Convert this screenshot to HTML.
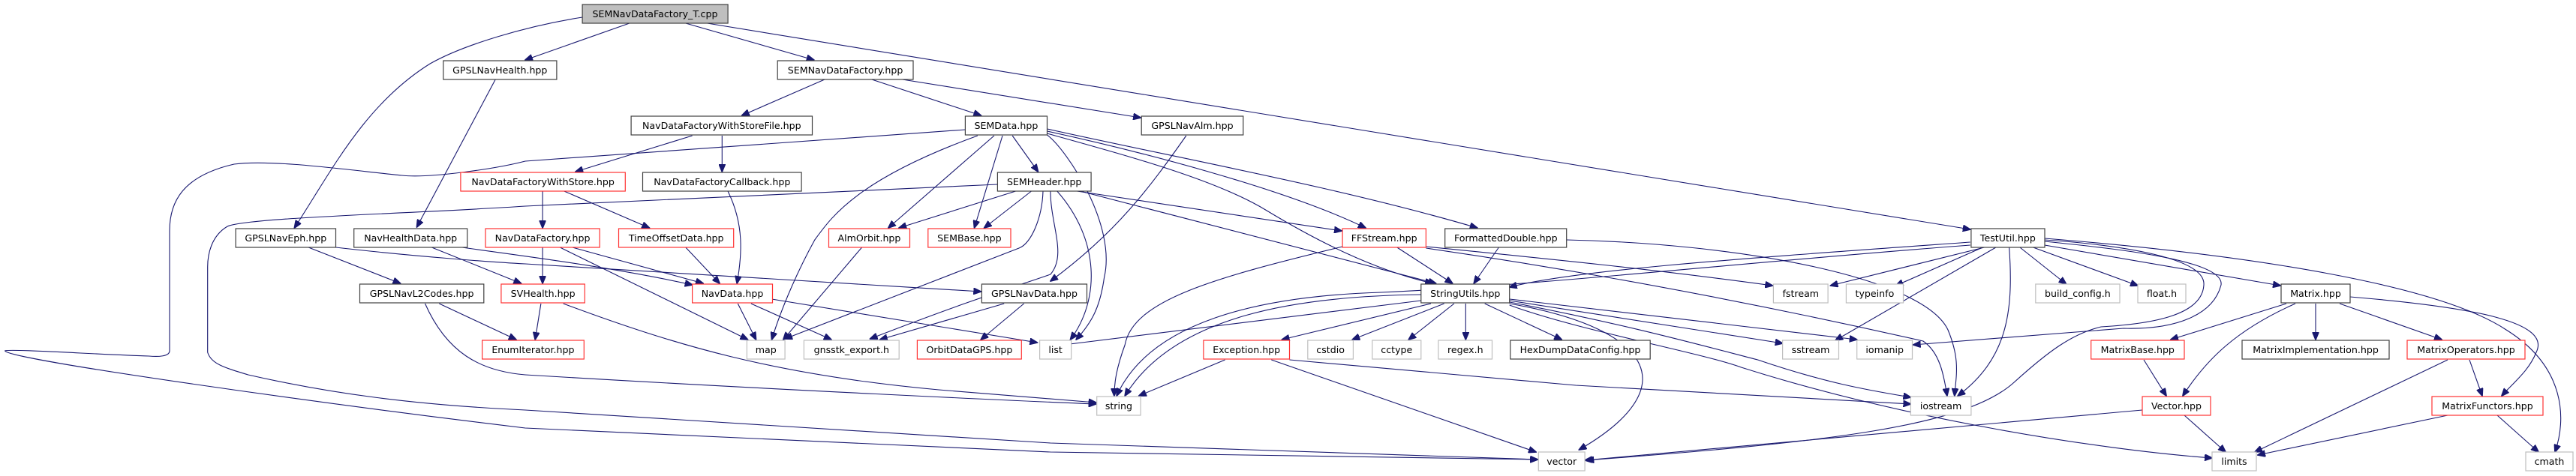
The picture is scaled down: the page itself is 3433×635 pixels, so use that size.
<!DOCTYPE html>
<html><head><meta charset="utf-8"><style>
html,body{margin:0;padding:0;background:#fff}
svg{display:block}
text{font-family:"DejaVu Sans","Liberation Sans",sans-serif;font-size:12.6px;fill:#000;text-anchor:middle}
.e{fill:none;stroke:#191970;stroke-width:1.1}
.b{fill:#fff;stroke:#404040;stroke-width:1.2}
.r{fill:#fff;stroke:#ff3333;stroke-width:1.2}
.g{fill:#fff;stroke:#bfbfbf;stroke-width:1.2}
.root{fill:#bfbfbf;stroke:#404040;stroke-width:1.2}
</style></head><body>
<svg id="s" width="3433" height="635" viewBox="0 0 3433 635" xmlns="http://www.w3.org/2000/svg">
<defs><marker id="a" markerWidth="11" markerHeight="9" refX="10" refY="4.5" orient="auto" markerUnits="userSpaceOnUse"><path d="M0,0 L11,4.5 L0,9 Z" fill="#191970" stroke="#191970"/></marker></defs>
<g class="e" marker-end="url(#a)">
<path d="M826,31 L700,80"/>
<path d="M894,31 L1049,80"/>
<path d="M920,31 L2577,306"/>
<path d="M769,23 C650,35 560,60 520,85 C440,140 400,230 356,304"/>
<path d="M599,106 L504,303"/>
<path d="M1062,106 L962,154"/>
<path d="M1119,106 L1251,154"/>
<path d="M1156,106 L1509,157"/>
<path d="M902,181 L761,229"/>
<path d="M938,181 L938,229"/>
<path d="M721,255 L721,304"/>
<path d="M747,255 L850,304"/>
<path d="M945,255 C965,300 962,340 956,378"/>
<path d="M894,330 L935,378"/>
<path d="M721,330 L721,378"/>
<path d="M757,330 L915,378"/>
<path d="M742,330 L969,453"/>
<path d="M522,330 L630,378"/>
<path d="M559,330 C620,340 800,355 902,380"/>
<path d="M406,330 C500,342 600,350 700,352 L1251,389"/>
<path d="M373,330 L484,378"/>
<path d="M531,405 L624,453"/>
<path d="M514,405 C540,470 580,495 700,500 C1000,520 1300,535 1455,539"/>
<path d="M719,405 L712,453"/>
<path d="M746,405 C880,460 1000,500 1200,520 L1455,537"/>
<path d="M957,405 L979,453"/>
<path d="M973,405 L1070,453"/>
<path d="M998,399 L1319,457"/>
<path d="M1232,173 L700,215 C600,225 520,238 486,234 C430,228 330,212 283,219 C220,235 205,270 205,308 L205,468 C205,476 190,476 180,475 C120,473 10,465 6,468 C10,480 400,540 635,571 L1335,603 L1989,613"/>
<path d="M1271,246 L700,275 C500,285 300,290 275,302 C255,315 251,340 251,356 L251,470 C255,485 270,490 300,500 C400,525 500,540 635,547 L1335,591 L1989,613"/>
<path d="M1247,181 C1100,240 1070,290 1050,320 C1030,360 1010,410 998,453"/>
<path d="M1267,181 L1139,304"/>
<path d="M1277,181 L1243,304"/>
<path d="M1289,181 L1320,229"/>
<path d="M1331,180 C1420,200 1480,300 1465,370 C1460,410 1450,430 1431,453"/>
<path d="M1331,175 C1500,200 1680,250 1781,304"/>
<path d="M1331,178 C1500,210 1600,240 1660,280 C1720,320 1790,360 1862,378"/>
<path d="M1331,172 C1550,210 1750,250 1916,304"/>
<path d="M1293,255 L1152,304"/>
<path d="M1312,255 L1255,304"/>
<path d="M1326,255 C1325,290 1312,325 1297,331 L1014,452"/>
<path d="M1335,255 C1345,300 1420,340 1360,366 C1300,380 1250,395 1117,452"/>
<path d="M1408,255 C1460,320 1460,400 1424,453"/>
<path d="M1432,255 L1752,308"/>
<path d="M1436,255 L1866,378"/>
<path d="M1107,330 L1012,453"/>
<path d="M1564,181 C1520,250 1480,310 1400,375"/>
<path d="M1279,405 L1129,453"/>
<path d="M1303,405 L1251,453"/>
<path d="M1753,329 C1600,370 1500,400 1490,460 C1480,490 1477,510 1477,528"/>
<path d="M1819,330 L1886,378"/>
<path d="M1854,329 C2000,345 2200,360 2338,381"/>
<path d="M1854,331 C2050,360 2300,400 2520,455 C2540,470 2545,500 2549,528"/>
<path d="M1942,330 L1912,378"/>
<path d="M2024,320 C2300,325 2520,370 2550,440 C2565,480 2560,500 2558,528"/>
<path d="M1848,393 C1700,395 1550,420 1490,528"/>
<path d="M2577,323 C2300,345 2100,360 1955,383"/>
<path d="M2577,327 C2300,350 2000,380 1800,390 C1650,395 1520,430 1480,528"/>
<path d="M1848,401 L1416,460"/>
<path d="M1860,405 L1680,453"/>
<path d="M1876,405 L1765,453"/>
<path d="M1888,405 L1833,453"/>
<path d="M1902,405 L1902,453"/>
<path d="M1925,405 L2018,453"/>
<path d="M1955,401 L2350,458"/>
<path d="M1955,399 L2440,453"/>
<path d="M1955,403 C2150,430 2250,460 2320,480 C2400,510 2450,520 2505,530"/>
<path d="M1955,405 C2200,440 2230,520 2104,600"/>
<path d="M1955,407 C2100,440 2250,470 2300,490 C2500,560 2800,600 2948,611"/>
<path d="M1611,480 L1507,528"/>
<path d="M1667,480 L1987,603"/>
<path d="M1689,480 L2035,514 L2505,539"/>
<path d="M2594,330 L2408,381"/>
<path d="M2592,330 L2487,381"/>
<path d="M2608,330 L2414,454"/>
<path d="M2624,330 C2630,420 2620,480 2562,528"/>
<path d="M2637,330 L2693,379"/>
<path d="M2653,330 L2849,381"/>
<path d="M2667,327 L3039,381"/>
<path d="M2667,318 C3000,340 3250,380 3340,440 C3420,490 3420,560 3405,603"/>
<path d="M2667,320 C2780,325 2940,340 2937,380 C2935,420 2870,432 2800,436 C2700,445 2670,470 2630,510 C2570,570 2400,590 2113,614"/>
<path d="M2667,322 C2800,330 2965,345 2960,380 C2950,420 2900,440 2830,438 L2508,460"/>
<path d="M3047,405 L2893,453"/>
<path d="M3059,405 C2980,440 2940,480 2909,528"/>
<path d="M3086,405 L3086,453"/>
<path d="M3118,405 L3254,453"/>
<path d="M3132,396 C3300,410 3400,430 3380,470 C3370,495 3350,510 3334,528"/>
<path d="M2857,480 L2887,528"/>
<path d="M3262,480 L3005,603"/>
<path d="M3291,480 L3308,528"/>
<path d="M3262,554 L3009,607"/>
<path d="M3328,554 L3383,603"/>
<path d="M2911,554 L2966,603"/>
<path d="M2855,547 L2111,614"/>
</g>
<g id="nodes">
<rect class="root" x="769" y="6" width="176" height="25"/><text x="857" y="23">SEMNavDataFactory_T.cpp</text>
<rect class="b" x="536" y="81" width="202" height="25"/><text x="637" y="98">GPSLNavHealth.hpp</text>
<rect class="b" x="1005" y="81" width="164" height="25"/><text x="1087" y="98">SEMNavDataFactory.hpp</text>
<rect class="b" x="828" y="155" width="219" height="25"/><text x="937" y="172">NavDataFactoryWithStoreFile.hpp</text>
<rect class="b" x="1232" y="155" width="99" height="25"/><text x="1281" y="172">SEMData.hpp</text>
<rect class="b" x="1510" y="155" width="123" height="25"/><text x="1571" y="172">GPSLNavAlm.hpp</text>
<rect class="r" x="557" y="230" width="264" height="25"/><text x="689" y="247">NavDataFactoryWithStore.hpp</text>
<rect class="b" x="842" y="230" width="192" height="25"/><text x="938" y="247">NavDataFactoryCallback.hpp</text>
<rect class="b" x="1271" y="230" width="178" height="25"/><text x="1360" y="247">SEMHeader.hpp</text>
<rect class="b" x="285" y="305" width="121" height="25"/><text x="345" y="322">GPSLNavEph.hpp</text>
<rect class="b" x="428" y="305" width="137" height="25"/><text x="496" y="322">NavHealthData.hpp</text>
<rect class="r" x="587" y="305" width="203" height="25"/><text x="688" y="322">NavDataFactory.hpp</text>
<rect class="r" x="813" y="305" width="139" height="25"/><text x="882" y="322">TimeOffsetData.hpp</text>
<rect class="r" x="1067" y="305" width="98" height="25"/><text x="1116" y="322">AlmOrbit.hpp</text>
<rect class="r" x="1187" y="305" width="100" height="25"/><text x="1237" y="322">SEMBase.hpp</text>
<rect class="r" x="1753" y="305" width="101" height="25"/><text x="1803" y="322">FFStream.hpp</text>
<rect class="b" x="1877" y="305" width="147" height="25"/><text x="1950" y="322">FormattedDouble.hpp</text>
<rect class="b" x="2578" y="305" width="89" height="25"/><text x="2622" y="322">TestUtil.hpp</text>
<rect class="b" x="435" y="379" width="150" height="25"/><text x="510" y="396">GPSLNavL2Codes.hpp</text>
<rect class="r" x="606" y="379" width="166" height="25"/><text x="689" y="396">SVHealth.hpp</text>
<rect class="r" x="902" y="379" width="97" height="25"/><text x="950" y="396">NavData.hpp</text>
<rect class="b" x="1252" y="379" width="192" height="25"/><text x="1348" y="396">GPSLNavData.hpp</text>
<rect class="b" x="1848" y="379" width="107" height="25"/><text x="1901" y="396">StringUtils.hpp</text>
<rect class="g" x="2339" y="379" width="66" height="25"/><text x="2372" y="396">fstream</text>
<rect class="g" x="2427" y="379" width="69" height="25"/><text x="2461" y="396">typeinfo</text>
<rect class="g" x="2656" y="379" width="169" height="25"/><text x="2740" y="396">build_config.h</text>
<rect class="g" x="2849" y="379" width="64" height="25"/><text x="2881" y="396">float.h</text>
<rect class="b" x="3040" y="379" width="92" height="25"/><text x="3086" y="396">Matrix.hpp</text>
<rect class="r" x="583" y="454" width="188" height="25"/><text x="677" y="471">EnumIterator.hpp</text>
<rect class="g" x="968" y="454" width="46" height="25"/><text x="991" y="471">map</text>
<rect class="g" x="1037" y="454" width="115" height="25"/><text x="1094" y="471">gnsstk_export.h</text>
<rect class="r" x="1174" y="454" width="126" height="25"/><text x="1237" y="471">OrbitDataGPS.hpp</text>
<rect class="g" x="1322" y="454" width="103" height="25"/><text x="1373" y="471">list</text>
<rect class="r" x="1585" y="454" width="104" height="25"/><text x="1637" y="471">Exception.hpp</text>
<rect class="g" x="1711" y="454" width="55" height="25"/><text x="1738" y="471">cstdio</text>
<rect class="g" x="1789" y="454" width="59" height="25"/><text x="1818" y="471">cctype</text>
<rect class="g" x="1869" y="454" width="65" height="25"/><text x="1901" y="471">regex.h</text>
<rect class="b" x="1956" y="454" width="234" height="25"/><text x="2073" y="471">HexDumpDataConfig.hpp</text>
<rect class="g" x="2350" y="454" width="68" height="25"/><text x="2384" y="471">sstream</text>
<rect class="g" x="2440" y="454" width="67" height="25"/><text x="2473" y="471">iomanip</text>
<rect class="r" x="2723" y="454" width="188" height="25"/><text x="2817" y="471">MatrixBase.hpp</text>
<rect class="b" x="2988" y="454" width="196" height="25"/><text x="3086" y="471">MatrixImplementation.hpp</text>
<rect class="r" x="3208" y="454" width="157" height="25"/><text x="3286" y="471">MatrixOperators.hpp</text>
<rect class="g" x="1456" y="529" width="53" height="25"/><text x="1482" y="546">string</text>
<rect class="g" x="2505" y="529" width="73" height="25"/><text x="2541" y="546">iostream</text>
<rect class="r" x="2855" y="529" width="91" height="25"/><text x="2900" y="546">Vector.hpp</text>
<rect class="r" x="3241" y="529" width="148" height="25"/><text x="3315" y="546">MatrixFunctors.hpp</text>
<rect class="g" x="1990" y="603" width="121" height="25"/><text x="2050" y="620">vector</text>
<rect class="g" x="2948" y="603" width="59" height="25"/><text x="2977" y="620">limits</text>
<rect class="g" x="3366" y="603" width="63" height="25"/><text x="3397" y="620">cmath</text>
</g>
</svg>
<script>
(function(){
function f(x){
  if(x>=2800) return x;
  var k=Math.floor(x/700)*700, d=x-k;
  if(d<=635) return k+d*1.1022;
  return k+700;
}
var ps=document.querySelectorAll('g.e > path');
for(var i=0;i<ps.length;i++){
  var d=ps[i].getAttribute('d');
  d=d.replace(/(-?[\d.]+),(-?[\d.]+)/g,function(m,a,b){return f(parseFloat(a)).toFixed(1)+','+b;});
  ps[i].setAttribute('d',d);
}
var rs=document.querySelectorAll('#nodes rect');
for(var j=0;j<rs.length;j++){
  var x=parseFloat(rs[j].getAttribute('x')), w=parseFloat(rs[j].getAttribute('width'));
  var x1=f(x), x2=f(x+w);
  rs[j].setAttribute('x',x1.toFixed(1)); rs[j].setAttribute('width',(x2-x1).toFixed(1));
  var t=rs[j].nextElementSibling;
  if(t && t.tagName.toLowerCase()==='text') t.setAttribute('x',((x1+x2)/2).toFixed(1));
}
})();
</script>
</body></html>
